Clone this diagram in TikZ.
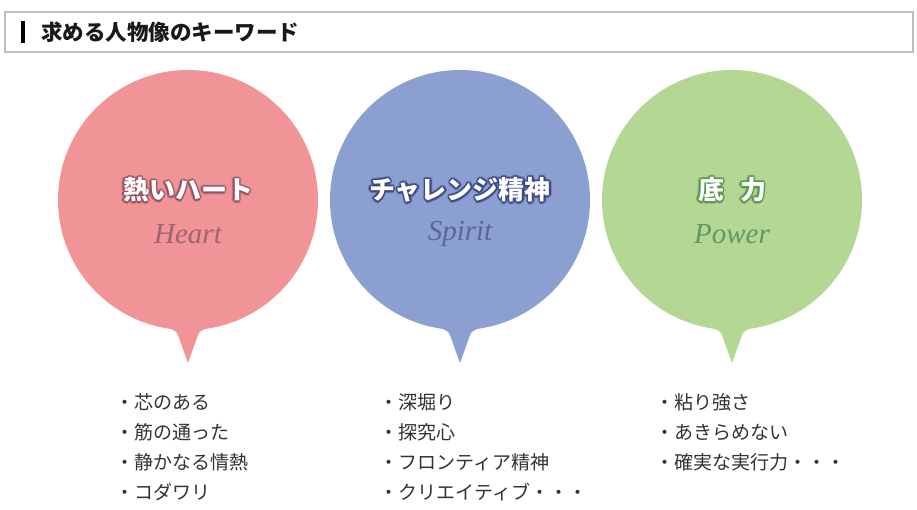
\documentclass[tikz,border=0pt]{standalone}
\usepackage{fontspec}
\newfontfamily\jp{Noto Sans CJK JP}
\newfontfamily\serifit{Liberation Serif}
\usetikzlibrary{calc, positioning}

\definecolor{heartfill}{RGB}{240,148,151}
\definecolor{spiritfill}{RGB}{139,160,208}
\definecolor{powerfill}{RGB}{180,216,148}
\definecolor{heartglow}{RGB}{150,85,98}
\definecolor{spiritglow}{RGB}{60,72,135}
\definecolor{powerglow}{RGB}{90,150,80}
\definecolor{hearttext}{RGB}{160,100,112}
\definecolor{spirittext}{RGB}{88,104,152}
\definecolor{powertext}{RGB}{100,150,96}
\definecolor{frame}{RGB}{190,190,190}
\definecolor{listtext}{RGB}{51,51,51}

% speech bubble: circle + tail below
\newcommand{\bubble}[3]{% name, centre, fill
  \node[circle, fill=#3, minimum size=260pt, inner sep=0pt] (#1) at (#2) {};
  \fill[#3] ($(#1.center)+(-17,128.9)$) .. controls ($(#1.center)+(-11,132)$) ..
    ($(#1.center)+(-9,138)$) -- ($(#1.center)+(0,163)$) --
    ($(#1.center)+(9,138)$) .. controls ($(#1.center)+(11,132)$) ..
    ($(#1.center)+(17,128.9)$) -- cycle;
}
% white heading with a dark halo
\newcommand{\glowlabel}[4]{% name, position, glow colour, text
  \foreach \ang in {0,45,...,315}
    \node[bubbletitle, text=#3, opacity=0.35] at ($(#2)+(\ang:2.6)$) {#4};
  \foreach \ang in {0,45,...,315}
    \node[bubbletitle, text=#3] at ($(#2)+(\ang:1.4)$) {#4};
  \node[bubbletitle, text=white] (#1) at (#2) {#4};
}

\begin{document}
\begin{tikzpicture}[
  x=1pt, y=-1pt,
  bubbletitle/.style={inner sep=0pt, font=\jp\bfseries\fontsize{26}{26}\selectfont},
  subtitle/.style={inner sep=0pt, font=\serifit\itshape\fontsize{29}{29}\selectfont},
  keyitem/.style={inner sep=0pt, anchor=base west, text=listtext,
                  font=\jp\fontsize{19}{19}\selectfont},
  headbox/.style={draw=frame, line width=1.3pt, fill=white}
]
  \useasboundingbox[fill=white] (0,0) rectangle (917,509);

  % Header
  \draw[headbox] (5,12) rectangle (913,52);
  \fill[black] (21,21) rectangle (25,43);
  \node[anchor=west, inner sep=0pt, text=black!90,
        font=\jp\bfseries\fontsize{21.5}{21.5}\selectfont] (title) at (41,32)
    {求める人物像のキーワード};

  % Bubbles
  \bubble{heart}{188,200}{heartfill}
  \bubble{spirit}{460,200}{spiritfill}
  \bubble{power}{732,200}{powerfill}

  % Headings
  \glowlabel{heartname}{$(heart.center)+(0,-10)$}{heartglow}{熱いハート}
  \glowlabel{spiritname}{$(spirit.center)+(0,-10)$}{spiritglow}{チャレンジ精神}
  \glowlabel{powername}{$(power.center)+(0,-10)$}{powerglow}{底\hspace{16pt}力}

  \node[subtitle, text=hearttext]  (heartsub)  at ($(heart.center)+(0,34)$)  {Heart};
  \node[subtitle, text=spirittext] (spiritsub) at ($(spirit.center)+(0,34)$) {Spirit};
  \node[subtitle, text=powertext]  (powersub)  at ($(power.center)+(0,34)$)  {Power};

  % Keyword lists
  \foreach \word [count=\k] in {芯のある, 筋の通った, 静かなる情熱, コダワリ}
    \node[keyitem] (heartitem-\k) at (115.5, 379+30*\k) {・\word};
  \foreach \word [count=\k] in {深堀り, 探究心, フロンティア精神, クリエイティブ・・・}
    \node[keyitem] (spirititem-\k) at (379.5, 379+30*\k) {・\word};
  \foreach \word [count=\k] in {粘り強さ, あきらめない, 確実な実行力・・・}
    \node[keyitem] (poweritem-\k) at (655.5, 379+30*\k) {・\word};
\end{tikzpicture}
\end{document}
